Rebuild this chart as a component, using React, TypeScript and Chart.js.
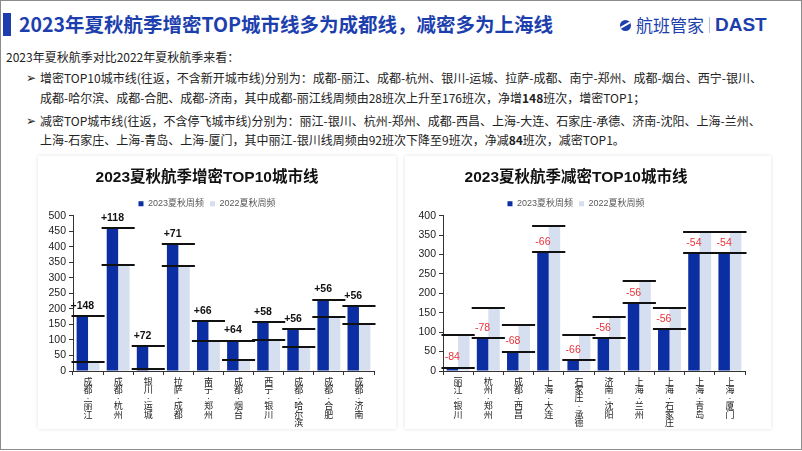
import React, { useEffect, useRef } from 'react';
import { Chart, registerables } from 'chart.js';

Chart.register(...registerables);

// ---------- data ----------
const incCategories = ['成都-丽江', '成都-杭州', '银川-运城', '拉萨-成都', '南宁-郑州', '成都-烟台', '西宁-银川', '成都-哈尔滨', '成都-合肥', '成都-济南'];
const inc2023 = [176, 460, 80, 408, 162, 98, 157, 134, 230, 208];
const inc2022 = [28, 342, 8, 337, 96, 34, 99, 78, 174, 152];
const incChange = ['+148', '+118', '+72', '+71', '+66', '+64', '+58', '+56', '+56', '+56'];

const decCategories = ['丽江-银川', '杭州-郑州', '成都-西昌', '上海-大连', '石家庄-承德', '济南-沈阳', '上海-兰州', '上海-石家庄', '上海-青岛', '上海-厦门'];
const dec2023 = [9, 84, 50, 307, 28, 84, 175, 107, 303, 303];
const dec2022 = [93, 162, 118, 373, 94, 140, 231, 163, 357, 357];
const decChange = ['-84', '-78', '-68', '-66', '-66', '-56', '-56', '-56', '-54', '-54'];

const seriesLabels = ['2023夏秋周频', '2022夏秋周频'];
const incTitle = '2023夏秋航季增密TOP10城市线';
const decTitle = '2023夏秋航季减密TOP10城市线';

const COLOR_2023 = '#0b2ea3';
const COLOR_2022 = '#d6dff0';
const FONT = '"Liberation Sans", "Noto Sans CJK SC", sans-serif';
const PAGE_FONT = '"Noto Sans CJK SC", "DejaVu Sans", sans-serif';
const BLUE = '#1d3fae';

type ChartProps = {
  categories: string[];
  v2023: number[];
  v2022: number[];
  changes: string[];
  yMax: number;
  title: string;
  changeColor: string;
  changeBold: boolean;
  left: number;
  top: number;
  width: number;
  height: number;
  yAxisWidth: number;
  rightPad: number;
  areaBottom: number;
};

function BarChart(p: ChartProps) {
  const ref = useRef<HTMLCanvasElement>(null);
  useEffect(() => {
    const canvas = ref.current!;
    const overlay = {
      id: 'overlay',
      afterLayout(chart: any) {
        const lg = chart.legend;
        if (lg) {
          lg.top += 2.5;
          lg.bottom += 2.5;
        }
      },
      afterDatasetsDraw(chart: any) {
        const ctx = chart.ctx;
        const xs = chart.scales.x;
        const ys = chart.scales.y;
        const n = p.categories.length;
        const cw = (xs.right - xs.left) / n;
        const meta0 = chart.getDatasetMeta(0);
        ctx.save();
        ctx.strokeStyle = '#111';
        ctx.lineWidth = 2;
        for (let i = 0; i < n; i++) {
          const cx = xs.getPixelForValue(i);
          for (const v of [p.v2023[i], p.v2022[i]]) {
            const py = Math.round(ys.getPixelForValue(v));
            ctx.beginPath();
            ctx.moveTo(cx - cw / 2 - 1.5, py);
            ctx.lineTo(cx + cw / 2 + 1.5, py);
            ctx.stroke();
          }
        }
        ctx.fillStyle = p.changeColor;
        ctx.font = `${p.changeBold ? 'bold ' : ''}10.5px ${FONT}`;
        ctx.textAlign = 'center';
        ctx.textBaseline = 'middle';
        for (let i = 0; i < n; i++) {
          const bx = meta0.data[i].x;
          const py = ys.getPixelForValue(p.v2023[i]);
          ctx.fillText(p.changes[i], bx, py - 10);
        }
        ctx.restore();
      },
    };
    const chart = new Chart(canvas, {
      type: 'bar',
      data: {
        labels: p.categories,
        datasets: [
          { label: seriesLabels[0], data: p.v2023, backgroundColor: COLOR_2023, categoryPercentage: 0.76, barPercentage: 1 },
          { label: seriesLabels[1], data: p.v2022, backgroundColor: COLOR_2022, categoryPercentage: 0.76, barPercentage: 1 },
        ],
      },
      options: {
        responsive: false,
        animation: false,
        layout: { padding: { left: 0, right: p.rightPad, top: 0, bottom: 0 } },
        plugins: {
          title: {
            display: true,
            text: p.title,
            color: '#111',
            font: { family: FONT, size: 15.5, weight: 'bold', lineHeight: 1 },
            padding: { top: 12.25, bottom: 5 },
          },
          legend: {
            display: true,
            position: 'top',
            labels: { boxWidth: 5, boxHeight: 5, padding: 6, color: '#595959', font: { family: FONT, size: 9 } },
          },
          tooltip: { enabled: false },
        },
        scales: {
          x: {
            grid: { display: true, drawOnChartArea: false, drawTicks: true, tickLength: 4, color: '#333', offset: true },
            border: { display: true, color: '#333' },
            ticks: {
              autoSkip: false,
              maxRotation: 0,
              minRotation: 0,
              padding: 3,
              color: '#222',
              font: { family: FONT, size: 9, lineHeight: 0.92 },
              callback: (_v: any, idx: number) => p.categories[idx].split('').map((c) => (c === '-' ? '·' : c)),
            },
            afterFit: (s: any) => {
              s.height = p.height - p.areaBottom;
            },
          },
          y: {
            min: 0,
            max: p.yMax,
            ticks: { stepSize: 50, autoSkip: false, padding: 3, color: '#222', font: { family: FONT, size: 10.5 } },
            grid: { display: true, drawOnChartArea: false, drawTicks: true, tickLength: 4, color: '#333' },
            border: { display: true, color: '#333' },
            afterFit: (s: any) => {
              s.width = p.yAxisWidth;
            },
          },
        },
      },
      plugins: [overlay],
    } as any);
    return () => chart.destroy();
  }, []);
  return (
    <canvas
      ref={ref}
      width={p.width}
      height={p.height}
      style={{ position: 'absolute', left: p.left, top: p.top, width: p.width, height: p.height }}
    />
  );
}

const lineStyle = (top: number, left: number): React.CSSProperties => ({
  position: 'absolute',
  top,
  left,
  fontSize: 12,
  lineHeight: '16px',
  whiteSpace: 'nowrap',
  color: '#222',
  fontFamily: PAGE_FONT,
});

const arrowStyle = (top: number): React.CSSProperties => ({
  position: 'absolute',
  top,
  left: 26,
  fontSize: 12,
  lineHeight: '16px',
  color: '#222',
  fontFamily: '"DejaVu Sans", sans-serif',
});

export default function App() {
  return (
    <div
      style={{
        position: 'absolute',
        left: 0,
        top: 0,
        width: 802,
        height: 451,
        background: '#fff',
        overflow: 'hidden',
        fontFamily: PAGE_FONT,
      }}
    >
      <div style={{ position: 'absolute', left: 0, top: 0, width: 800, height: 448, border: '1px solid #8c8c8c' }} />
      <div style={{ position: 'absolute', left: 3, top: 13, width: 8, height: 23, background: BLUE }} />
      <div
        style={{
          position: 'absolute',
          left: 19,
          top: 12,
          fontSize: 19.5,
          lineHeight: '24px',
          fontWeight: 'bold',
          color: BLUE,
          whiteSpace: 'nowrap',
        }}
      >
        2023年夏秋航季增密TOP城市线多为成都线，减密多为上海线
      </div>
      {/* logo */}
      <div style={{ position: 'absolute', left: 620, top: 14, height: 22, display: 'flex', alignItems: 'center', color: BLUE, whiteSpace: 'nowrap' }}>
        <div style={{ position: 'relative', width: 11, height: 11, borderRadius: 6, background: BLUE, marginRight: 5, overflow: 'hidden' }}>
          <div style={{ position: 'absolute', left: -2, top: 4, width: 15, height: 2, background: '#fff', transform: 'rotate(-30deg)' }} />
        </div>
        <span style={{ fontSize: 17, lineHeight: '22px' }}>航班管家</span>
        <span style={{ width: 1, height: 16, background: '#b8bfd6', margin: '0 5px' }} />
        <span style={{ fontSize: 19, lineHeight: '22px', fontWeight: 'bold', fontFamily: '"Liberation Sans", sans-serif' }}>DAST</span>
      </div>

      <div style={lineStyle(49, 6)}>2023年夏秋航季对比2022年夏秋航季来看：</div>

      <div style={arrowStyle(70)}>➢</div>
      <div style={lineStyle(70, 40)}>
        增密TOP10城市线(往返，不含新开城市线)分别为：成都-丽江、成都-杭州、银川-运城、拉萨-成都、南宁-郑州、成都-烟台、西宁-银川、
      </div>
      <div style={lineStyle(90, 40)}>
        成都-哈尔滨、成都-合肥、成都-济南，其中成都-丽江线周频由28班次上升至176班次，净增<b>148</b>班次，增密TOP1；
      </div>
      <div style={arrowStyle(113)}>➢</div>
      <div style={lineStyle(113, 40)}>
        减密TOP城市线(往返，不含停飞城市线)分别为：丽江-银川、杭州-郑州、成都-西昌、上海-大连、石家庄-承德、济南-沈阳、上海-兰州、
      </div>
      <div style={lineStyle(132, 40)}>
        上海-石家庄、上海-青岛、上海-厦门，其中丽江-银川线周频由92班次下降至9班次，净减<b>84</b>班次，减密TOP1。
      </div>

      <div style={{ position: 'absolute', left: 38, top: 156, width: 358, height: 273, background: '#fff', boxShadow: '0 0 4px rgba(0,0,0,0.12)' }} />
      <div style={{ position: 'absolute', left: 405, top: 156, width: 366, height: 273, background: '#fff', boxShadow: '0 0 4px rgba(0,0,0,0.12)' }} />

      <BarChart
        categories={incCategories}
        v2023={inc2023}
        v2022={inc2022}
        changes={incChange}
        yMax={500}
        title={incTitle}
        changeColor="#111"
        changeBold={true}
        left={40}
        top={158}
        width={355}
        height={270}
        yAxisWidth={33}
        rightPad={21}
        areaBottom={213}
      />
      <BarChart
        categories={decCategories}
        v2023={dec2023}
        v2022={dec2022}
        changes={decChange}
        yMax={400}
        title={decTitle}
        changeColor="#e8333a"
        changeBold={false}
        left={407}
        top={158}
        width={362}
        height={270}
        yAxisWidth={36}
        rightPad={24}
        areaBottom={213}
      />
    </div>
  );
}
